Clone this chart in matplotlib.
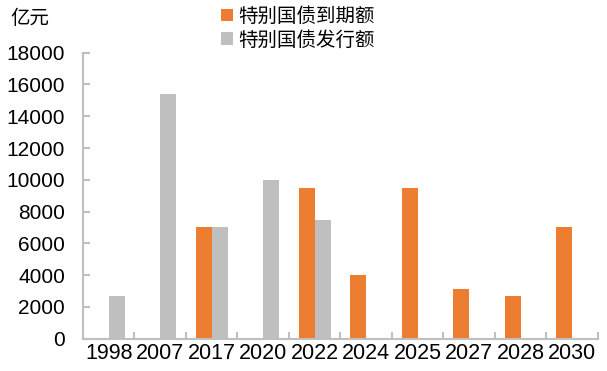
import matplotlib
matplotlib.use("Agg")
import matplotlib.pyplot as plt
import numpy as np
from matplotlib.patches import Patch

plt.rcParams['font.family'] = ['Liberation Sans', 'Noto Sans CJK SC', 'DejaVu Sans']

years = ["1998", "2007", "2017", "2020", "2022", "2024", "2025", "2027", "2028", "2030"]
maturity = [0, 0, 7000, 0, 9500, 4000, 9500, 3100, 2700, 7000]
issuance = [2700, 15400, 7000, 10000, 7500, 0, 0, 0, 0, 0]
series_names = ["特别国债到期额", "特别国债发行额"]
unit_label = "亿元"
yticks = [0, 2000, 4000, 6000, 8000, 10000, 12000, 14000, 16000, 18000]

orange = "#ED7D31"
gray = "#BFBFBF"
axis_gray = "#BFBFBF"

fig = plt.figure(figsize=(6.07, 3.71), dpi=100)
ax = fig.add_axes([0.1367, 0.087, 0.985 - 0.1367, 0.858 - 0.087])

x = np.arange(len(years))
w = 0.31
ax.bar(x - w / 2, maturity, width=w, color=orange)
ax.bar(x + w / 2, issuance, width=w, color=gray)

ax.set_xlim(-0.5, len(years) - 0.5)
ax.set_ylim(0, 18000)
ax.set_yticks(yticks)
ax.set_yticklabels([str(v) for v in yticks], fontsize=15)
ax.set_xticks(x)
ax.set_xticklabels(years, fontsize=15.5)
ax.tick_params(axis='x', length=0, pad=3)
ax.set_xticks(np.arange(len(years) + 1) - 0.5, minor=True)
ax.tick_params(axis='x', which='minor', direction='in', length=5, color=axis_gray, width=1.5)
ax.tick_params(axis='y', direction='in', length=5, color=axis_gray, width=1.5, pad=13)

for s in ['top', 'right']:
    ax.spines[s].set_visible(False)
for s in ['left', 'bottom']:
    ax.spines[s].set_color(axis_gray)
    ax.spines[s].set_linewidth(1.5)

fig.text(10 / 607, 1 - 19 / 371, unit_label, fontsize=14, va='center', ha='left',
         family=['Noto Sans CJK SC'])

handles = [Patch(facecolor=orange), Patch(facecolor=gray)]
leg = fig.legend(handles, series_names, loc='center', bbox_to_anchor=(298 / 607, 1 - 28 / 371),
                 frameon=False, prop={'family': 'Noto Sans CJK SC', 'size': 14},
                 handlelength=0.6, handleheight=0.6, handletextpad=0.3, labelspacing=0.15,
                 borderpad=0)

fig.savefig("out.png", dpi=100)
